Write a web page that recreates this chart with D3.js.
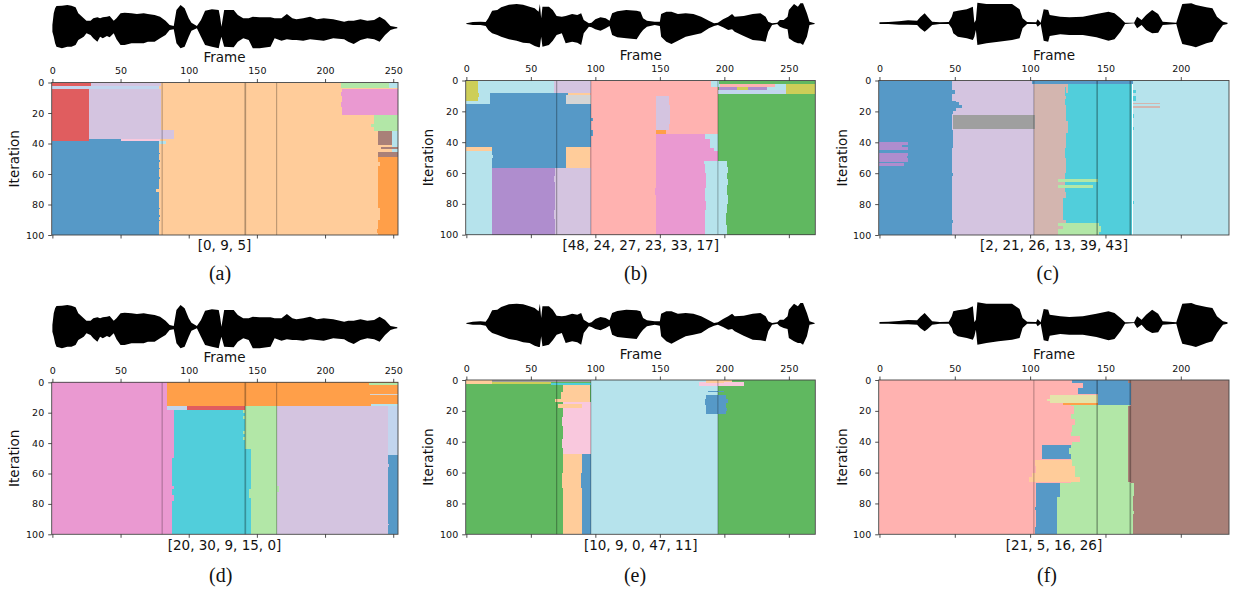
<!DOCTYPE html>
<html>
<head>
<meta charset="utf-8">
<script src="https://cdn.jsdelivr.net/npm/d3@7"></script>
<style>
  html, body { margin: 0; background: #fff; }
  svg { display: block; }
  text { font-family: "DejaVu Sans", sans-serif; fill: #111; }
  .caption { font-family: "Liberation Serif", serif; font-size: 20px; }
</style>
</head>
<body>
<svg id="chart" width="1233" height="590"></svg>
<script>
// cluster colour ids index this list
const tab20 = ["#1f77b4", "#aec7e8", "#ff7f0e", "#ffbb78", "#2ca02c", "#98df8a", "#d62728", "#ff9896", "#9467bd", "#c5b0d5",
  "#8c564b", "#c49c94", "#e377c2", "#f7b6d2", "#7f7f7f", "#c7c7c7", "#bcbd22", "#dbdb8d", "#17becf", "#9edae5"]

// waveform envelopes, one per song
const waveAFrames = [0,1,2,3,7,11,14,17,19,23,25,28,30,33,35,37,40,42,45,47,50,53,58,62,67,70,75,79,83,86,89,91,94,97,100,102,106,109,112,117,122,123,124,126,133,136,140,144,147,152,160,163,168,172,176,179,184,189,194,199,206,214,217,221,226,231,236,240,244,248,251,253]
const waveAUpper = [7,42,57,64,65,67,65,60,42,27,20,20,27,30,27,30,32,34,20,27,42,44,42,40,42,40,37,32,20,7,4,52,67,57,27,14,4,22,50,54,52,32,2,52,52,37,27,27,32,30,30,27,27,40,27,24,27,32,24,27,24,17,20,20,24,20,22,32,22,4,2,0]
const waveALower = [13,28,48,58,63,58,58,53,38,28,18,23,33,43,28,33,26,30,18,36,53,53,48,48,48,43,43,33,23,8,6,48,63,58,28,10,3,28,53,58,63,43,28,58,60,43,33,38,63,63,58,33,40,36,38,38,40,36,38,40,33,36,43,50,38,33,36,43,23,8,4,3]

const waveBFrames = [0,5,11,15,17,20,24,27,33,39,44,49,53,56,57,58,59,64,67,70,74,77,82,86,89,91,95,97,100,104,108,111,113,117,124,132,135,137,140,146,150,151,155,159,164,170,176,182,188,192,195,199,203,206,208,215,222,228,232,234,237,241,243,246,249,250,254,257,259,261,264,266,270]
const waveBUpper = [1,5,6,5,16,39,41,49,57,59,57,51,46,36,59,16,51,51,41,23,21,23,29,26,31,11,1,3,13,19,16,9,31,37,41,39,36,16,9,6,6,29,36,36,29,31,29,21,9,1,3,13,21,29,21,23,29,31,21,6,1,3,11,11,21,41,59,51,61,61,31,6,1]
const waveBLower = [1,4,4,7,19,29,34,39,47,51,57,59,67,71,71,39,69,64,51,34,29,59,54,57,64,29,9,11,17,21,14,7,34,41,44,47,29,19,9,4,7,39,54,61,51,39,34,29,14,7,4,11,19,17,24,37,49,51,54,24,4,1,9,14,17,44,54,59,59,64,39,4,1]

const waveCFrames = [0,6,13,19,25,27,30,32,35,40,46,48,49,52,58,62,63,64,65,71,79,88,93,95,98,104,105,107,109,112,113,120,126,135,144,152,156,160,163,169,171,174,177,181,185,188,197,199,201,207,210,217,221,224,228,231]
const waveCUpper = [2,3,5,8,7,17,29,19,4,2,3,19,34,37,41,49,1,9,61,57,57,57,41,14,3,2,11,1,41,39,24,19,17,19,27,34,29,14,1,1,19,9,24,39,27,4,1,29,57,59,54,47,44,19,4,1]
const waveCLower = [3,3,5,5,6,16,26,19,6,3,3,16,31,41,46,51,41,21,66,61,56,51,46,16,3,3,11,3,53,56,39,34,36,36,43,53,49,26,3,1,16,6,21,31,29,6,3,36,63,69,73,61,56,31,6,3]

const frameEndA = 253.5
const frameEndB = 270.5
const frameEndC = 232

const dividersA = [80.5, 141.5, 164.5]
const dividersB = [70, 96.5, 195]
const dividersC = [102.5, 144.5, 166.5]

// [frame start, frame end, iteration start, iteration end, colour id], painted in order
const blocksA = [
  [0,254,0,100,3],
  [0,28.5,0,2.5,6],[0,27,4,38.5,6],[27,28,30,38.5,6],
  [28.5,80,0,2.5,9],[27,80,4,37,9],[80,89,31,37,9],[50,79,37,38.5,13],
  [0,78,2.5,4,1],[78,79,2.5,4,3],
  [0,78,38.5,100,0],[27,50,37,38.5,0],[76,78,70,72,3],[78,79,46,47,0],[78,79,51,52,0],[78,79,56,57,0],[78,79,62,63,0],[78,79,82,83,0],[78,79,87,88,0],[78,79,90,91,0],
  [78,83,38.5,40.5,19],
  [212,247,0,3.5,5],[247,254,0,3.5,19],
  [212.5,254,4,21,12],[212,213,6,9,12],[212,213,13,16,12],
  [236,254,21.5,32,5],[234,236,27,29,5],
  [239,249,32,41,10],[249,254,32,46,19],[240.5,249,36,38,10],[241,254,42.5,43.5,10],[239,254,45.5,49,10],
  [239,254,49,100,2],[238.5,239,60,64,2],[238,239,96,99,2],[239,240,82,90,3],[239,240,52,55,3]
]
const blocksB = [
  [0,270.5,0,100,7],
  [0,68,0,8,19],[9,18,8,15,19],[0,9,13,15,19],[0,9,0,13,16],[9,10,8,11,16],
  [68,97,0,8,9],
  [18,79,8,15,0],[77,97,9.5,15,15],[79,96,8,9.5,3],[77,79,13,15,15],
  [0,97,15,43,0],[97,98,24,26,0],[97,98,32,36,0],[19.5,77,43,57,0],
  [0,19.5,43,46,3],[0,19.5,46,100,19],[19.5,21,48,50,19],[19.5,20.5,60,63,19],[19.5,20.5,70,80,19],[19.5,20.5,88,92,19],
  [77,96,43,57,3],
  [19.5,69,57,100,8],[69,97,57,100,9],[68,69,62,66,9],[68,69,84,90,9],
  [147,157,10,32,9],[157,158,16,28,9],[147,155,32,34.5,2],
  [147,185,35,100,12],[147,195,35,52,12],[146.5,147,70,74,12],
  [185,195,35,38,19],[189,195,38,44,19],[192,195,44,46,19],
  [195,270.5,0,100,4],
  [190,196,0,4,19],[196,248,2,8.5,19],[197,239,2.5,4,7],[196,210,4.5,6,8],[210,218,4.5,6,16],[218,233,4.5,6,8],
  [195,248,6,9,1],[248,270.5,2,9,16],
  [185,202,52,100,19],[184,202,52,54,19],[202,203,56,60,19],[202,203,64,68,19],[202,203,74,80,19],[185,186,60,70,12],[185,186,78,84,12],[201,202,86,94,4]
]
const blocksC = [
  [0,48,0,100,0],[48,102.5,0,100,9],[102.5,124,2,100,11],[124,167.5,2,100,18],[168,232,0,100,19],
  [101,168,0,2,0],
  [48,50,6,9,0],[48,51,13,14,0],[48,53,14,16,0],[48,54.5,16,18,0],[48,51,18,20,0],[48,49,20,22,0],[48,49,32,44,0],[48,49,60,62,0],[48,49,90,92,0],
  [48.5,103.5,22.5,31.5,14],
  [0,19,40,45,8],[0,19,47,52.5,8],[0,16,53.5,55.5,8],[15,19,42,43,0],[18,19,49,50,0],
  [124,125,2,8,11],[124,125,26,34,11],[123,124,12,16,18],[123,124,44,50,18],[123,124,60,72,18],[122,124,76,90,18],[123,124,4,10,18],
  [118.5,145,63.5,65.5,5],[118.5,142,67.5,69.5,5],[118.5,146,92,100,5],[118.5,122,94,96,11],[146,147,94,98,5],
  [168,186,14.5,15.5,11],[168,186,16.5,18,11],
  [168,170,6,8,18],[168,170,10,13,18],[168,169,22,24,18],[168,169,30,32,18],[168,169,78,80,18]
]
const blocksD = [
  [0,88,0,100,12],[88,89,44,50,12],[88,89,68,70,12],[88,89,74,78,12],
  [84,254,0,15.5,2],[232,254,0.5,1.5,5],[233,254,7.5,8.5,15],[234,254,14,16,19],
  [84,99,15.5,18,1],[99,141,15.5,18,6],
  [89,141,18,100,18],[88,89,18,44,12],[88,89,50,68,18],[88,89,70,74,18],[88,89,78,100,18],[141,145.5,44,100,18],
  [141,165,15.5,44,5],[145.5,165,44,100,5],[140,142,18,20,5],[140,141,22,24,5],[140,141,32,34,5],[140,141,36,38,5],[144,145.5,70,76,5],
  [165,246,15.5,100,9],[165,166,68,72,5],
  [246,254,15.5,48,1],[246,254,48,100,0],[246,247,54,56,9],[246,247,93,94,9]
]
const blocksE = [
  [0,270.5,0,100,4],
  [0,20,0,2.5,3],[20,97,0,1.5,14],[20,66,1.5,2.5,16],[66,97,2,3,18],
  [75,96,3,14,3],[69,75,12,14,3],[73,75,8,12,3],
  [75,97,14,48,13],[71,90,15.5,18,3],[97,98,16,20,13],[74,75,24,30,13],[74,75,38,44,13],
  [75,90,48,100,3],[90,97,48,100,0],[97,98,52,56,0],[97,98,66,72,0],[97,98,84,88,0],[74,75,60,70,3],[89,90,60,70,0],
  [97,195,0,100,19],
  [186,206,0,1,3],[180,215,1,4,13],[186,200,1,1.7,3],
  [187,200,7,8,0],[186,201,10,22,0],[201,203,12,15,0],[201,202,18,20,0],[185,186,12,16,0]
]
const blocksF = [
  [0,232,0,100,7],
  [167,232,0,100,10],
  [128,167,0,2,0],[135,167,2,5,0],[132,167,5,9,0],[145,167,9,16.5,0],[165,167,0,2,10],
  [113,145,10,15,17],[111,113,12,13.5,17],[122,145,15,16.5,2],
  [127,166,16.5,100,5],[118,166,67,100,5],
  [127,129,17,22,7],[127,130,25,29,7],[127,128,29,34,7],[127,133,36,40,7],[127,128,40,42,7],
  [108,127,42,51,0],[126,128,44,48,5],
  [103,128,52,56,3],[104,130,56,60,3],[101,130,60,63,3],[99,133,63,66,3],
  [104,120,67,76,0],[104,118,76,100,0],[103,106,95,100,0],[103,104,82,84,0],
  [120,122,67,72,5],[166,169,67,75,5],[166,168,75,100,5],[168,169,85,87,5],[165,167,17,66,10]
]

const tickIterations = [0, 20, 40, 60, 80, 100]
const panelLabels = ["[0, 9, 5]", "[48, 24, 27, 23, 33, 17]", "[2, 21, 26, 13, 39, 43]", "[20, 30, 9, 15, 0]", "[10, 9, 0, 47, 11]", "[21, 5, 16, 26]"]
const panelLetters = ["(a)", "(b)", "(c)", "(d)", "(e)", "(f)"]

const waveA = { frames: waveAFrames, upper: waveAUpper, lower: waveALower, end: frameEndA, dividers: dividersA, widths: [1, 1.7, 1] }
const waveB = { frames: waveBFrames, upper: waveBUpper, lower: waveBLower, end: frameEndB, dividers: dividersB, widths: [1.2, 1, 1] }
const waveC = { frames: waveCFrames, upper: waveCUpper, lower: waveCLower, end: frameEndC, dividers: dividersC, widths: [1, 1.7, 1.7] }

const layouts = [
  { song: waveA, blocks: blocksA, left: 51.7, right: 398, top: 82.5, bottom: 235, wave: 27.3, frame: 62, label: 250, cap: 280, labelX: 224.5, capX: 220, iterX: 19.3 },
  { song: waveB, blocks: blocksB, left: 465.7, right: 815.3, top: 80.5, bottom: 234.7, wave: 23.7, frame: 59.5, label: 250, cap: 280, labelX: 640.7, capX: 635.7, iterX: 433 },
  { song: waveC, blocks: blocksC, left: 878.7, right: 1229, top: 80.5, bottom: 235, wave: 23, frame: 59.5, label: 250, cap: 280, labelX: 1054, capX: 1047.7, iterX: 846.7 },
  { song: waveA, blocks: blocksD, left: 51.7, right: 398, top: 382.3, bottom: 534.3, wave: 327.3, frame: 361.7, label: 550, cap: 582, labelX: 224.5, capX: 220.7, iterX: 19.3 },
  { song: waveB, blocks: blocksE, left: 465.7, right: 815.3, top: 380, bottom: 534.3, wave: 323.3, frame: 359, label: 550, cap: 582, labelX: 640.7, capX: 635, iterX: 433 },
  { song: waveC, blocks: blocksF, left: 878.7, right: 1229, top: 380, bottom: 534.3, wave: 322.7, frame: 359, label: 550, cap: 582, labelX: 1054, capX: 1047, iterX: 846.7 }
]

const svg = d3.select("#chart")
// matte the tab20 colours on white, the way imshow with alpha does
const matte = (id) => d3.interpolateRgb("#fff", tab20[id])(0.75)

svg.append("defs").append("filter").attr("id", "soft")
  .append("feGaussianBlur").attr("stdDeviation", 0.35)

layouts.forEach((p, i) => {
  const song = p.song
  const x = d3.scaleLinear().domain([-0.5, song.end]).range([p.left, p.right])
  const y = d3.scaleLinear().domain([0, 100]).range([p.top, p.bottom])
  const amp = d3.scaleLinear().domain([-72, 72]).range([p.wave + 24, p.wave - 24])
  const g = svg.append("g")

  const area = d3.area()
    .x((f) => x(f))
    .y0((f, k) => amp(-song.lower[k]))
    .y1((f, k) => amp(song.upper[k]))
  g.append("path").datum(song.frames).attr("d", area).attr("fill", "#000").attr("filter", "url(#soft)")

  const marks = g.append("g").attr("filter", "url(#soft)")
  marks.selectAll("rect")
    .data(p.blocks)
    .join("rect")
    .attr("x", (b) => x(Math.max(b[0], -0.5)))
    .attr("width", (b) => x(Math.min(b[1], song.end)) - x(Math.max(b[0], -0.5)))
    .attr("y", (b) => y(b[2]))
    .attr("height", (b) => y(b[3]) - y(b[2]))
    .attr("fill", (b) => matte(b[4]))
    .attr("shape-rendering", "crispEdges")

  marks.selectAll("line")
    .data(song.dividers)
    .join("line")
    .attr("x1", (f) => x(f))
    .attr("x2", (f) => x(f))
    .attr("y1", p.top)
    .attr("y2", p.bottom)
    .attr("stroke", "#000")
    .attr("stroke-opacity", 0.3)
    .attr("stroke-width", (f, k) => song.widths[k])

  g.append("rect")
    .attr("x", p.left).attr("y", p.top)
    .attr("width", p.right - p.left).attr("height", p.bottom - p.top)
    .attr("fill", "none").attr("stroke", "#444").attr("stroke-width", 0.9)

  const frameTicks = d3.range(0, song.end, 50)
  const styleAxis = (axis) => {
    axis.select(".domain").remove()
    axis.selectAll("line").attr("stroke", "#222").attr("stroke-width", 0.8)
    axis.selectAll("text").style("font-family", "DejaVu Sans").style("font-size", "9.5px").attr("fill", "#222")
  }
  g.append("g").attr("transform", `translate(0,${p.top})`)
    .call(d3.axisTop(x).tickValues(frameTicks).tickFormat(d3.format("d")).tickSize(3.5).tickPadding(5))
    .call(styleAxis)
  g.append("g").attr("transform", `translate(0,${p.bottom})`)
    .call(d3.axisBottom(x).tickValues(frameTicks).tickFormat("").tickSize(3.5))
    .call(styleAxis)
  g.append("g").attr("transform", `translate(${p.left},0)`)
    .call(d3.axisLeft(y).tickValues(tickIterations).tickSize(3.5).tickPadding(4))
    .call(styleAxis)

  g.append("text").attr("x", p.labelX).attr("y", p.frame).attr("text-anchor", "middle")
    .attr("font-size", 13.5).text("Frame")
  g.append("text").attr("transform", `translate(${p.iterX},${(p.top + p.bottom) / 2}) rotate(-90)`)
    .attr("text-anchor", "middle").attr("font-size", 13.5).text("Iteration")
  g.append("text").attr("x", p.labelX).attr("y", p.label).attr("text-anchor", "middle")
    .attr("font-size", 13.5).text(panelLabels[i])
  g.append("text").attr("class", "caption").attr("x", p.capX).attr("y", p.cap).attr("text-anchor", "middle")
    .text(panelLetters[i])
})
</script>
</body>
</html>
